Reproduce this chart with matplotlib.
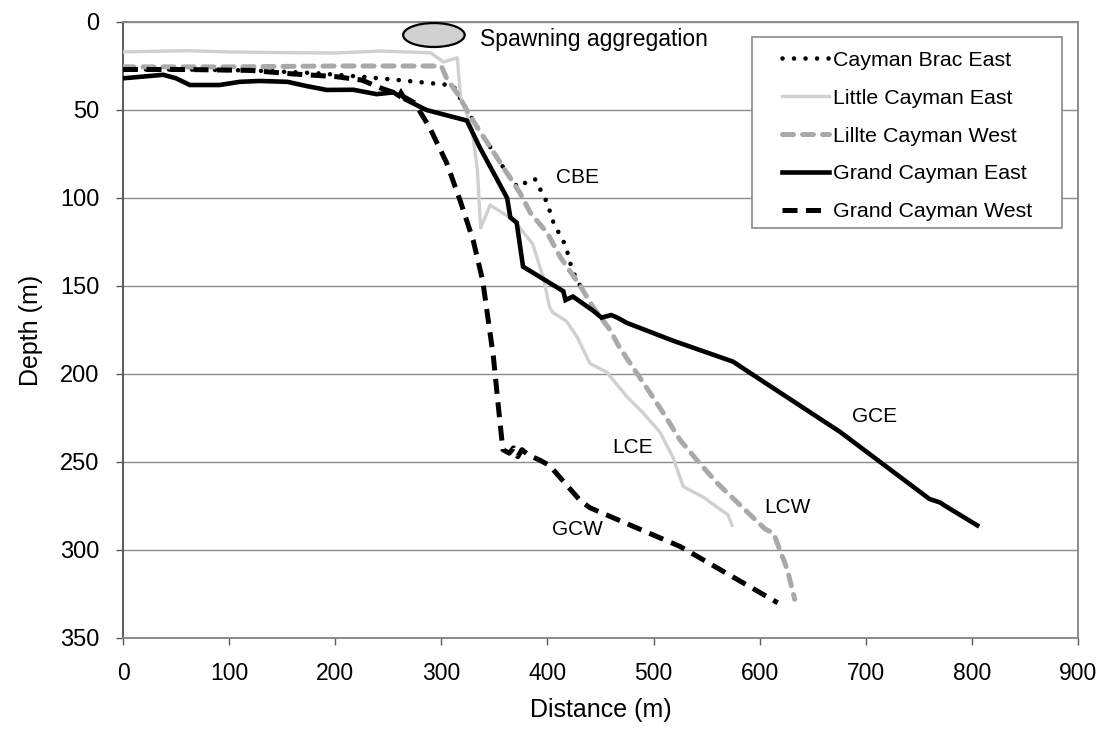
import matplotlib
matplotlib.use("Agg")
import matplotlib.pyplot as plt
from matplotlib.patches import Ellipse, Rectangle

plt.rcParams['font.family'] = ['Liberation Sans', 'DejaVu Sans']

# Depth profiles (distance from shore in m, depth in m)
cbe_x = [0, 60, 120, 180, 223, 260, 311, 316, 324, 334, 346, 362, 372, 380, 388, 400, 405, 410, 414, 418, 422, 425, 431]
cbe_y = [27, 27, 27.5, 29, 31, 33, 36, 41.5, 50, 60, 71, 86, 94, 91, 89, 103, 113, 119, 123, 129, 138, 143, 150]

lce_x = [0, 60, 100, 150, 200, 242, 290, 302, 315, 318, 329, 334, 337, 346, 368, 386, 396, 402, 405, 418, 428, 440, 456, 475, 490, 506, 518, 528, 547, 563, 570, 574]
lce_y = [17, 16.3, 17, 17.4, 17.6, 16.5, 17.5, 22.7, 20.3, 42, 61, 84, 117, 104, 112.5, 126, 145, 162, 165, 170, 179, 194, 199, 213, 222, 233, 247, 264, 270, 277, 280, 286]

lcw_x = [0, 100, 200, 300, 305, 316, 324, 334, 346, 362, 374, 384, 400, 412, 431, 443, 459, 468, 487, 497, 509, 525, 541, 560, 579, 598, 605, 613, 619, 626, 633]
lcw_y = [25.5, 25.5, 25, 25, 32, 41.5, 50, 60, 71, 86, 97, 108.5, 120, 133.5, 150, 162, 175, 185, 202, 211, 222, 237.5, 249, 262, 273, 284, 288, 290.5, 300, 311, 328]

gce_x = [0, 38, 50, 63, 91, 110, 129, 155, 173, 192, 217, 239, 255, 260, 262, 266, 286, 305, 324, 336, 362, 365, 371, 377, 415, 417, 424, 443, 451, 460, 466, 475, 518, 575, 590, 676, 760, 770, 775, 805]
gce_y = [32, 30, 32, 35.8, 35.8, 34, 33.5, 34, 36.4, 38.6, 38.5, 41, 40, 42, 40, 44, 50, 53, 56, 71, 100, 111, 114, 139, 153, 158, 156, 164, 168, 166.5, 168, 171, 181, 193, 199, 233, 271, 273, 275, 286]

gcw_x = [0, 60, 120, 160, 200, 225, 245, 260, 275, 289, 305, 318, 330, 339, 349, 354, 358, 364, 368, 372, 376, 382, 393, 402, 431, 440, 525, 617]
gcw_y = [27, 27, 27.5, 29.5, 31, 33, 38, 41, 46, 60, 80, 102, 124, 147, 190, 220, 243, 245, 242, 247, 243, 246, 249, 252, 272, 276, 298, 330]

series_names = ["Cayman Brac East", "Little Cayman East", "Lillte Cayman West",
                "Grand Cayman East", "Grand Cayman West"]

x_ticks = [0, 100, 200, 300, 400, 500, 600, 700, 800, 900]
y_ticks = [0, 50, 100, 150, 200, 250, 300, 350]

fig = plt.figure(figsize=(11.04, 7.38), dpi=100, facecolor='white')
ax = fig.add_axes([123 / 1104, 1 - 638 / 738, (1078 - 123) / 1104, (638 - 22) / 738])

styles = [
    dict(color='black', lw=3.3, linestyle=(0, (0.01, 2.5)), dash_capstyle='round'),
    dict(color='#d0d0d0', lw=2.4, linestyle='-'),
    dict(color='#a9a9a9', lw=3.6, linestyle=(0, (2.2, 1.8)), dash_capstyle='round'),
    dict(color='black', lw=3.3, linestyle='-', solid_joinstyle='miter'),
    dict(color='black', lw=3.6, linestyle=(0, (3.0, 1.7))),
]

data = [(cbe_x, cbe_y), (lce_x, lce_y), (lcw_x, lcw_y), (gce_x, gce_y), (gcw_x, gcw_y)]
handles = []
for (xs, ys), st, name in zip(data, styles, series_names):
    h, = ax.plot(xs, ys, label=name, zorder=3, **st)
    handles.append(h)

ax.set_xlim(0, 900)
ax.set_ylim(350, 0)
ax.set_xticks(x_ticks)
ax.set_yticks(y_ticks)
ax.yaxis.grid(True, color='#8c8c8c', lw=1.0)
ax.set_axisbelow(True)

for sp in ax.spines.values():
    sp.set_color('#8a8a8a')
    sp.set_linewidth(1.4)
ax.spines['left'].set_color('#5a5a5a')

ax.tick_params(axis='both', direction='out', length=5, width=1, color='#5a5a5a')
ax.tick_params(axis='x', pad=12, labelsize=16.5)
ax.tick_params(axis='y', pad=12, labelsize=17)

ax.set_xlabel("Distance (m)", fontsize=18, labelpad=10)
ax.set_ylabel("Depth (m)", fontsize=18, labelpad=12)

# Spawning aggregation marker
ax.add_patch(Ellipse((293, 7.4), 58, 13.6, facecolor='#d0d0d0', edgecolor='black', lw=1.6, zorder=4))
ax.text(336, 10.2, "Spawning aggregation", fontsize=16.5, va='center', ha='left')

# Site labels
ax.text(428, 88.6, "CBE", fontsize=15, ha='center', va='center')
ax.text(480, 242, "LCE", fontsize=15, ha='center', va='center')
ax.text(626, 276, "LCW", fontsize=15, ha='center', va='center')
ax.text(428, 288.6, "GCW", fontsize=15, ha='center', va='center')
ax.text(708, 224, "GCE", fontsize=15, ha='center', va='center')

# Legend with its own frame
fig.patches.append(Rectangle((752 / 1104, 1 - 228 / 738), 310 / 1104, 191 / 738,
                             transform=fig.transFigure, facecolor='white',
                             edgecolor='#8a8a8a', lw=1.2, zorder=5))
leg = fig.legend(handles=handles, loc='upper left',
                 bbox_to_anchor=(767 / 1104, 1 - 36 / 738),
                 frameon=False, fontsize=15.4, handlelength=2.2,
                 handletextpad=0.2, labelspacing=0.88, borderpad=0.2)
leg.set_zorder(6)

fig.savefig("out.png", dpi=100, facecolor='white')
